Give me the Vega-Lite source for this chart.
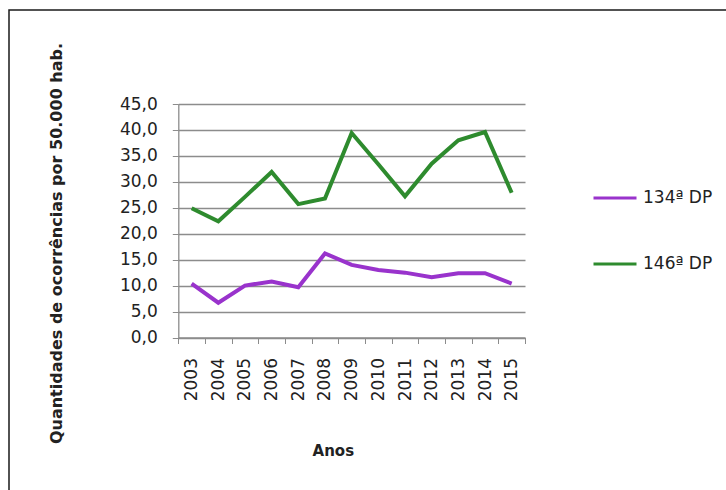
{
  "$schema": "https://vega.github.io/schema/vega-lite/v6.json",
  "width": 719,
  "height": 482,
  "autosize": {"type": "none"},
  "padding": {"left": 9, "top": 10, "right": -2, "bottom": -2},
  "background": "white",
  "config": {
    "view": {"stroke": "#1a1a1a", "strokeWidth": 1.5},
    "font": "DejaVu Sans"
  },
  "data": {
    "values": [
      {"ano": 2003, "dp": "134ª DP", "valor": 10.4},
      {"ano": 2004, "dp": "134ª DP", "valor": 6.7},
      {"ano": 2005, "dp": "134ª DP", "valor": 10.0},
      {"ano": 2006, "dp": "134ª DP", "valor": 10.8},
      {"ano": 2007, "dp": "134ª DP", "valor": 9.7},
      {"ano": 2008, "dp": "134ª DP", "valor": 16.2},
      {"ano": 2009, "dp": "134ª DP", "valor": 14.0},
      {"ano": 2010, "dp": "134ª DP", "valor": 13.0},
      {"ano": 2011, "dp": "134ª DP", "valor": 12.5},
      {"ano": 2012, "dp": "134ª DP", "valor": 11.6},
      {"ano": 2013, "dp": "134ª DP", "valor": 12.4},
      {"ano": 2014, "dp": "134ª DP", "valor": 12.4},
      {"ano": 2015, "dp": "134ª DP", "valor": 10.4},
      {"ano": 2003, "dp": "146ª DP", "valor": 24.9},
      {"ano": 2004, "dp": "146ª DP", "valor": 22.4},
      {"ano": 2005, "dp": "146ª DP", "valor": 27.1},
      {"ano": 2006, "dp": "146ª DP", "valor": 31.9},
      {"ano": 2007, "dp": "146ª DP", "valor": 25.7},
      {"ano": 2008, "dp": "146ª DP", "valor": 26.8},
      {"ano": 2009, "dp": "146ª DP", "valor": 39.4},
      {"ano": 2010, "dp": "146ª DP", "valor": 33.4},
      {"ano": 2011, "dp": "146ª DP", "valor": 27.2},
      {"ano": 2012, "dp": "146ª DP", "valor": 33.5},
      {"ano": 2013, "dp": "146ª DP", "valor": 38.0},
      {"ano": 2014, "dp": "146ª DP", "valor": 39.6},
      {"ano": 2015, "dp": "146ª DP", "valor": 27.9}
    ]
  },
  "mark": {"type": "line", "strokeWidth": 4},
  "encoding": {
    "x": {
      "field": "ano",
      "type": "quantitative",
      "scale": {"domain": [2002.5, 2015.5], "range": [169.3, 516], "nice": false, "zero": false},
      "axis": {
        "title": "Anos",
        "offset": -154.5,
        "values": [2002.5, 2003.5, 2004.5, 2005.5, 2006.5, 2007.5, 2008.5, 2009.5, 2010.5, 2011.5, 2012.5, 2013.5, 2014.5, 2015.5],
        "labelExpr": "datum.value < 2015 ? format(datum.value + 0.5, 'd') : ''",
        "labelOffset": 13.35,
        "labelAngle": -90,
        "labelPadding": 14,
        "labelFlush": false,
        "labelOverlap": false,
        "labelFontSize": 17,
        "labelColor": "#222222",
        "tickSize": 6,
        "tickColor": "#8c8c8c",
        "domainColor": "#8c8c8c",
        "domainWidth": 1.3,
        "grid": false,
        "titleFontSize": 15,
        "titleFontWeight": "bold",
        "titleColor": "#222222",
        "titleX": 323.8,
        "titleY": 112.5,
        "titleAlign": "center",
        "titleBaseline": "middle"
      }
    },
    "y": {
      "field": "valor",
      "type": "quantitative",
      "scale": {"domain": [0, 45], "range": [327.5, 94], "nice": false},
      "axis": {
        "title": "Quantidades de ocorrências  por 50.000 hab.",
        "offset": -169.3,
        "values": [0, 5, 10, 15, 20, 25, 30, 35, 40, 45],
        "labelExpr": "replace(format(datum.value, '.1f'), '.', ',')",
        "labelPadding": 15,
        "labelFontSize": 17,
        "labelColor": "#222222",
        "tickSize": 6,
        "tickColor": "#8c8c8c",
        "domainColor": "#8c8c8c",
        "domainWidth": 1.3,
        "grid": true,
        "gridColor": "#8c8c8c",
        "gridWidth": 1.3,
        "titleFontSize": 16,
        "titleFontWeight": "bold",
        "titleColor": "#222222",
        "titleX": -122.3,
        "titleY": 233,
        "titleAngle": -90,
        "titleAlign": "center",
        "titleBaseline": "middle"
      }
    },
    "color": {
      "field": "dp",
      "type": "nominal",
      "scale": {"domain": ["134ª DP", "146ª DP"], "range": ["#9933cc", "#2e8b2e"]},
      "legend": {
        "title": null,
        "orient": "none",
        "legendX": 583,
        "legendY": 165,
        "padding": 0,
        "symbolType": "stroke",
        "symbolSize": 1849,
        "symbolStrokeWidth": 3,
        "labelFontSize": 17,
        "labelColor": "#222222",
        "labelOffset": 5,
        "rowPadding": 35
      }
    }
  }
}
